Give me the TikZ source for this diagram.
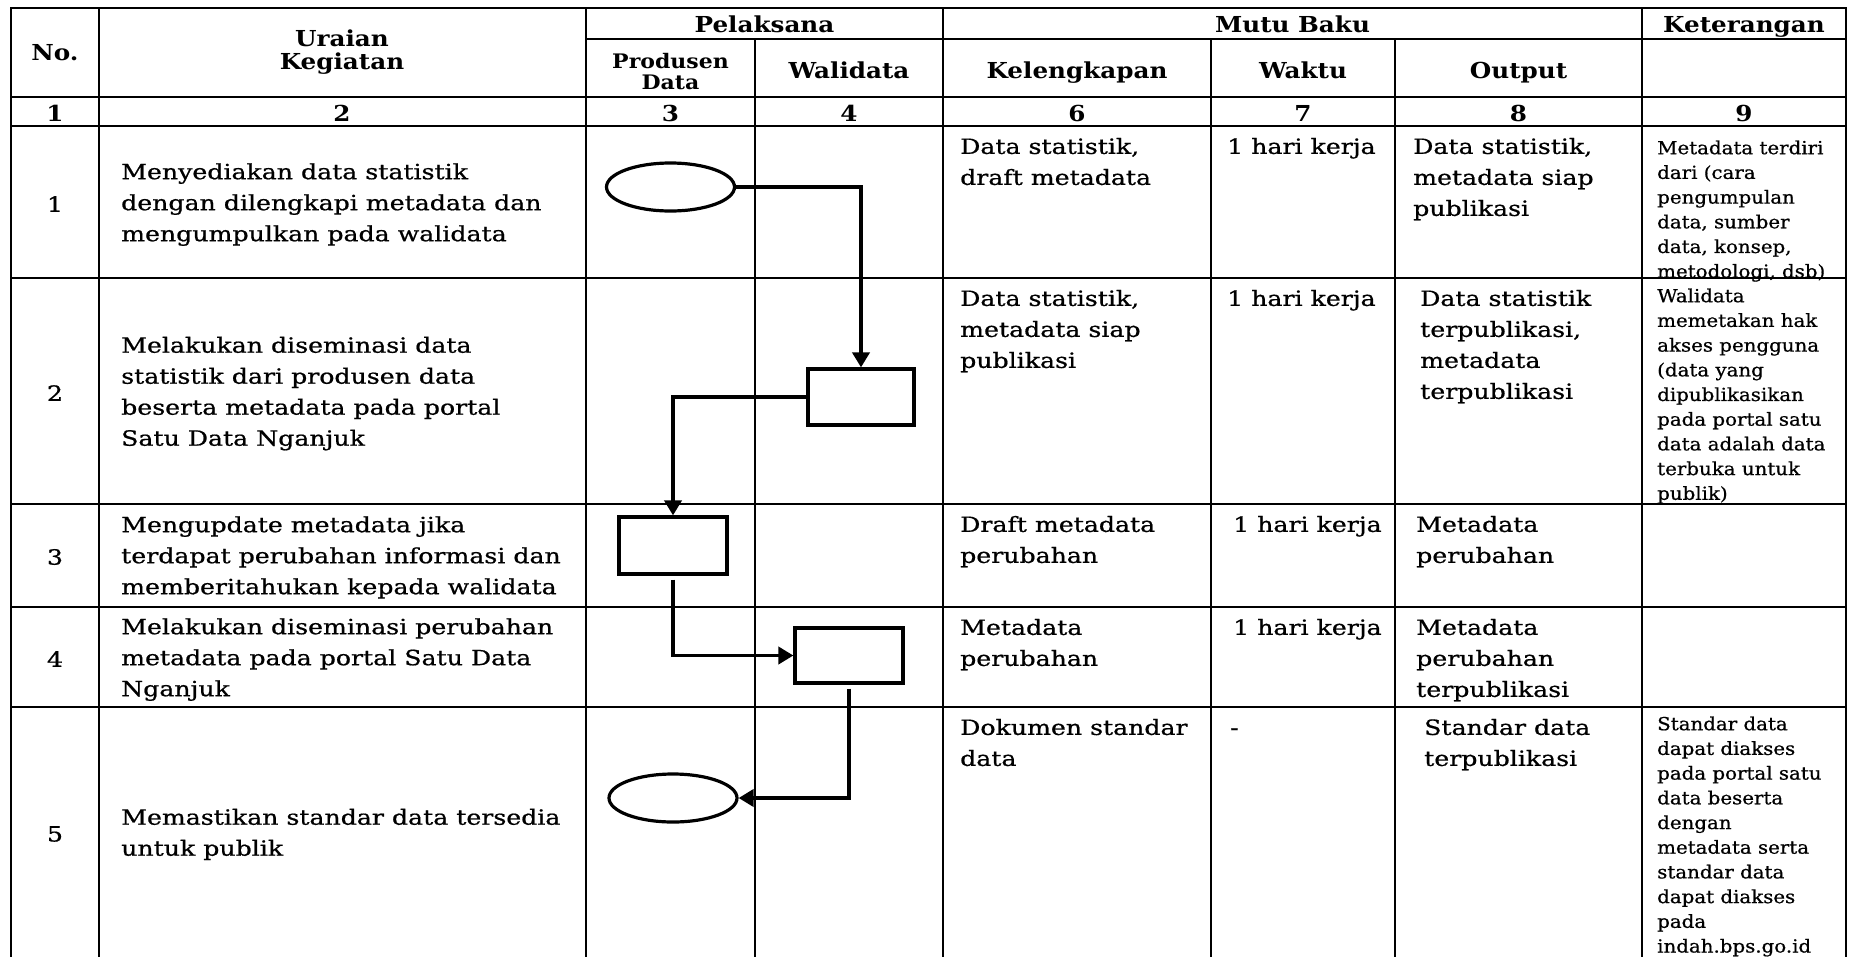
\documentclass[tikz,border=0pt]{standalone}
\usepackage{fontspec}
\setmainfont{DejaVu Serif}
\newfontfamily\bodyfont{DejaVu Serif}[FakeBold=0.7]
\usepackage{graphicx}
\usetikzlibrary{arrows.meta,shapes.geometric}
\newcommand{\SX}[2][1.12]{\scalebox{#1}[1]{#2}}
\newcommand{\TB}[2][1.2]{\scalebox{#1}[1]{\begin{tabular}[t]{@{}l@{}}#2\end{tabular}}}
\newcommand{\CB}[3]{\scalebox{#1}[1]{\begin{tabular}{@{}#2@{}}#3\end{tabular}}}
\tikzset{
  grid/.style={line width=2.5pt, line cap=rect},
  hd/.style={font=\fontsize{22}{23}\selectfont\bfseries, inner sep=0pt},
  hds/.style={font=\fontsize{20}{21}\selectfont\bfseries, inner sep=0pt},
  bd/.style={font=\bodyfont\fontsize{21}{31}\selectfont, inner sep=0pt},
  kt/.style={font=\bodyfont\fontsize{18}{24.7}\selectfont, inner sep=0pt},
  procbox/.style={draw, line width=3.2pt, inner sep=0pt},
  term/.style={ellipse, draw, line width=3.2pt, inner sep=0pt, minimum width=128pt, minimum height=48pt},
  flow/.style={line width=3.8pt, -{Triangle[length=15pt,width=17pt]}}
}
\begin{document}
\begin{tikzpicture}[x=1pt,y=-1pt]
\fill[white] (0,0) rectangle (1849,956);
\useasboundingbox (0,0) rectangle (1849,956);
% horizontal lines
\draw[grid] (11,8) -- (1846,8);
\draw[grid] (586,39) -- (1846,39);
\draw[grid] (11,97) -- (1846,97);
\draw[grid] (11,126) -- (1846,126);
\draw[grid] (11,278) -- (1846,278);
\draw[grid] (11,504) -- (1846,504);
\draw[grid] (11,607) -- (1846,607);
\draw[grid] (11,707) -- (1846,707);
% vertical lines
\draw[grid] (11,8) -- (11,956);
\draw[grid] (99,8) -- (99,956);
\draw[grid] (586,8) -- (586,956);
\draw[grid] (755,39) -- (755,956);
\draw[grid] (943,8) -- (943,956);
\draw[grid] (1211,39) -- (1211,956);
\draw[grid] (1395,39) -- (1395,956);
\draw[grid] (1642,8) -- (1642,956);
\draw[grid] (1846,8) -- (1846,956);
% headers
\node[hd, anchor=base] (hNo) at (55,60) {\SX{No.}};
\node[hd] (hUr) at (342,53) {\CB{1.12}{c}{Uraian\\Kegiatan}};
\node[hd, anchor=base] (hPel) at (764.5,32) {\SX{Pelaksana}};
\node[hds] (hPro) at (670.5,74.6) {\CB{1.1}{c}{Produsen\\Data}};
\node[hd, anchor=base] (hWal) at (849,78) {\SX{Walidata}};
\node[hd, anchor=base] (hMutu) at (1292.5,32) {\SX{Mutu Baku}};
\node[hd, anchor=base] (hKel) at (1077,78) {\SX{Kelengkapan}};
\node[hd, anchor=base] (hWak) at (1303,78) {\SX{Waktu}};
\node[hd, anchor=base] (hOut) at (1518.5,78) {\SX{Output}};
\node[hd, anchor=base] (hKet) at (1744,32) {\SX{Keterangan}};
% number row
\node[hd, anchor=base] (n1c) at (55,121) {\SX{1}};
\node[hd, anchor=base] (n2c) at (342,121) {\SX{2}};
\node[hd, anchor=base] (n3c) at (670.5,121) {\SX{3}};
\node[hd, anchor=base] (n4c) at (849,121) {\SX{4}};
\node[hd, anchor=base] (n6c) at (1077,121) {\SX{6}};
\node[hd, anchor=base] (n7c) at (1303,121) {\SX{7}};
\node[hd, anchor=base] (n8c) at (1518.5,121) {\SX{8}};
\node[hd, anchor=base] (n9c) at (1744,121) {\SX{9}};
% row numbers
\node[bd] (no1) at (55,204) {\SX[1.2]{1}};
\node[bd] (no2) at (55,393) {\SX[1.2]{2}};
\node[bd] (no3) at (55,557) {\SX[1.2]{3}};
\node[bd] (no4) at (55,659) {\SX[1.2]{4}};
\node[bd] (no5) at (55,834) {\SX[1.2]{5}};
% uraian
\node[bd, anchor=west] (u1) at (121,204) {\CB{1.2}{l}{Menyediakan data statistik\\dengan dilengkapi metadata dan\\mengumpulkan pada walidata}};
\node[bd, anchor=west] (u2) at (121,393) {\CB{1.2}{l}{Melakukan diseminasi data\\statistik dari produsen data\\beserta metadata pada portal\\Satu Data Nganjuk}};
\node[bd, anchor=west] (u3) at (121,557) {\CB{1.2}{l}{Mengupdate metadata jika\\terdapat perubahan informasi dan\\memberitahukan kepada walidata}};
\node[bd, anchor=west] (u4) at (121,659) {\CB{1.2}{l}{Melakukan diseminasi perubahan\\metadata pada portal Satu Data\\Nganjuk}};
\node[bd, anchor=west] (u5) at (121,834) {\CB{1.2}{l}{Memastikan standar data tersedia\\untuk publik}};
% row 1
\node[bd, anchor=north west] (k1) at (960,132) {\TB{Data statistik,\\draft metadata}};
\node[bd, anchor=north west] (w1) at (1227,132) {\TB{1 hari kerja}};
\node[bd, anchor=north west] (o1) at (1413,132) {\TB{Data statistik,\\metadata siap\\publikasi}};
\node[kt, anchor=north west] (m1) at (1657,136.7) {\TB[1.1]{Metadata terdiri\\dari (cara\\pengumpulan\\data, sumber\\data, konsep,\\metodologi, dsb)}};
% row 2
\node[bd, anchor=north west] (k2) at (960,284) {\TB{Data statistik,\\metadata siap\\publikasi}};
\node[bd, anchor=north west] (w2) at (1227,284) {\TB{1 hari kerja}};
\node[bd, anchor=north west] (o2) at (1420,284) {\TB{Data statistik\\terpublikasi,\\metadata\\terpublikasi}};
\node[kt, anchor=north west] (m2) at (1657,284.7) {\TB[1.1]{Walidata\\memetakan hak\\akses pengguna\\(data yang\\dipublikasikan\\pada portal satu\\data adalah data\\terbuka untuk\\publik)}};
% row 3
\node[bd, anchor=north west] (k3) at (960,510) {\TB{Draft metadata\\perubahan}};
\node[bd, anchor=north west] (w3) at (1233,510) {\TB{1 hari kerja}};
\node[bd, anchor=north west] (o3) at (1416,510) {\TB{Metadata\\perubahan}};
% row 4
\node[bd, anchor=north west] (k4) at (960,613) {\TB{Metadata\\perubahan}};
\node[bd, anchor=north west] (w4) at (1233,613) {\TB{1 hari kerja}};
\node[bd, anchor=north west] (o4) at (1416,613) {\TB{Metadata\\perubahan\\terpublikasi}};
% row 5
\node[bd, anchor=north west] (k5) at (960,713) {\TB{Dokumen standar\\data}};
\node[bd, anchor=north west] (w5) at (1230,713) {\TB{-}};
\node[bd, anchor=north west] (o5) at (1424,713) {\TB{Standar data\\terpublikasi}};
\node[kt, anchor=north west] (m5) at (1657,712.7) {\TB[1.1]{Standar data\\dapat diakses\\pada portal satu\\data beserta\\dengan\\metadata serta\\standar data\\dapat diakses\\pada\\indah.bps.go.id}};
% flow shapes
\node[term] (e1) at (670.5,187) {};
\node[procbox, minimum width=106pt, minimum height=56pt] (r2) at (861,397) {};
\node[procbox, minimum width=108pt, minimum height=57pt] (r3) at (673,545.5) {};
\node[procbox, minimum width=108pt, minimum height=55pt] (r4) at (849,655.5) {};
\node[term] (e5) at (673,798) {};
% connectors
\draw[flow] (e1.east) -| (r2.north);
\draw[flow] (r2.west) -| (r3.north);
\draw[flow, shorten <=4pt] (r3.south) |- (r4.west);
\draw[flow, shorten <=4pt] (r4.south) |- (e5.east);
\end{tikzpicture}
\end{document}
